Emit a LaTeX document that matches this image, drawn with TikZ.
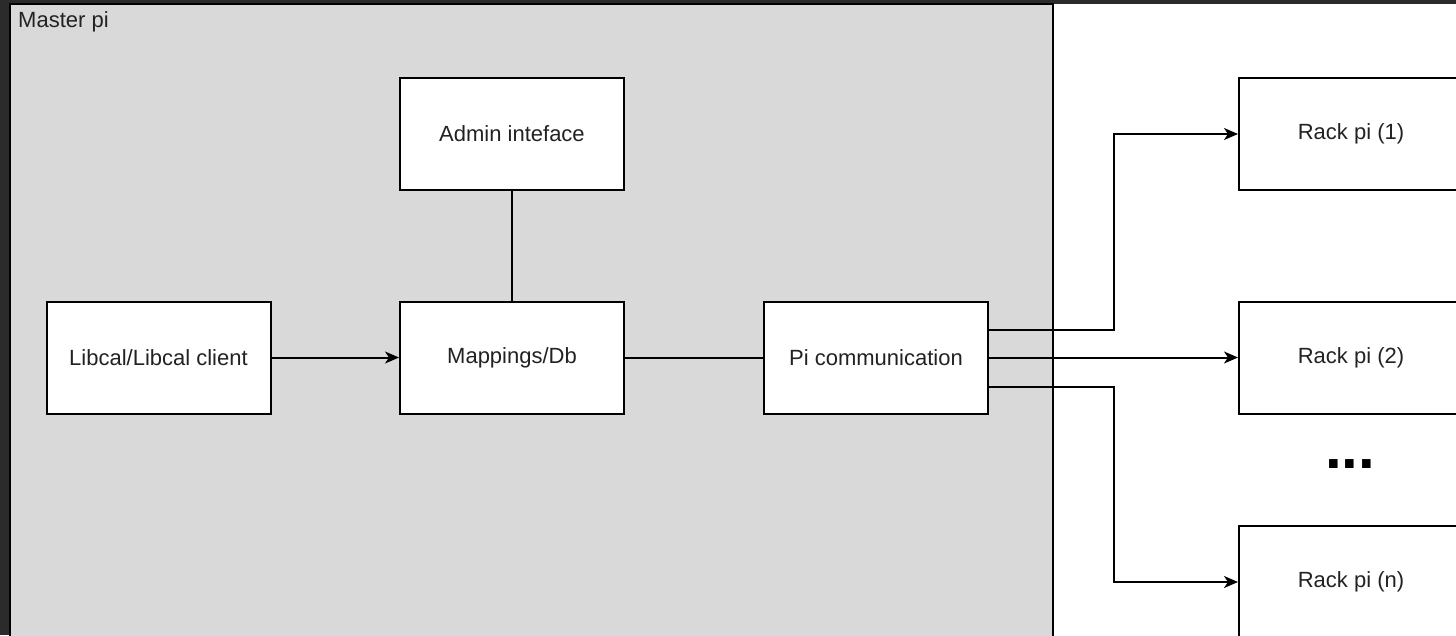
\documentclass[tikz,border=0pt]{standalone}
\usepackage{fontspec}
\setmainfont{Liberation Sans}
\usetikzlibrary{arrows.meta}
\definecolor{darkbg}{HTML}{2B2B2B}
\definecolor{groupgray}{HTML}{D9D9D9}
\definecolor{txt}{HTML}{222222}
\tikzset{
  box/.style={draw=black, fill=white, line width=2pt, minimum width=224pt, minimum height=112pt, inner sep=0pt, text=txt, font=\fontsize{22}{26}\selectfont},
  link/.style={draw=black, line width=2pt},
  arr/.style={link, -{Stealth[length=14pt, width=12pt, inset=4pt]}}
}
\begin{document}
\begin{tikzpicture}[x=1pt, y=-1pt]
\useasboundingbox (0,0) rectangle (1456,635);
\clip (0,0) rectangle (1456,635);
\fill[darkbg] (0,0) rectangle (1456,635);
\fill[white] (10,4) rectangle (1470,650);
\draw[fill=groupgray, line width=2pt] (10,4) rectangle (1053,650);
\node[anchor=base west, text=txt, inner sep=0pt, font=\fontsize{22}{26}\selectfont] (master) at (18,27) {Master pi};

\node[box] (admin) at (512,134) {Admin inteface};
\node[box] (libcal) at (158.5,357.5) {Libcal/Libcal client};
\node[box] (map) at (512,357.5) {Mappings/Db};
\node[box] (picomm) at (876,357.5) {Pi communication};

\node[box] (rack1) at (1351,134) {Rack pi (1)};
\node[box] (rack2) at (1351,357.5) {Rack pi (2)};
\node[box] (rackn) at (1351,582) {Rack pi (n)};
\node[font=\bfseries\fontsize{60}{66}\selectfont, inner sep=0pt, anchor=base] (dots) at (1350,468) {...};

\draw[arr] (libcal) -- (map);
\draw[link] (admin) -- (map);
\draw[link] (map) -- (picomm);
\draw[arr] ([yshift=27.5pt]picomm.east) -- ++(125,0) |- (rack1.west);
\draw[arr] (picomm) -- (rack2);
\draw[arr] ([yshift=-29.5pt]picomm.east) -- ++(125,0) |- (rackn.west);
\end{tikzpicture}
\end{document}
